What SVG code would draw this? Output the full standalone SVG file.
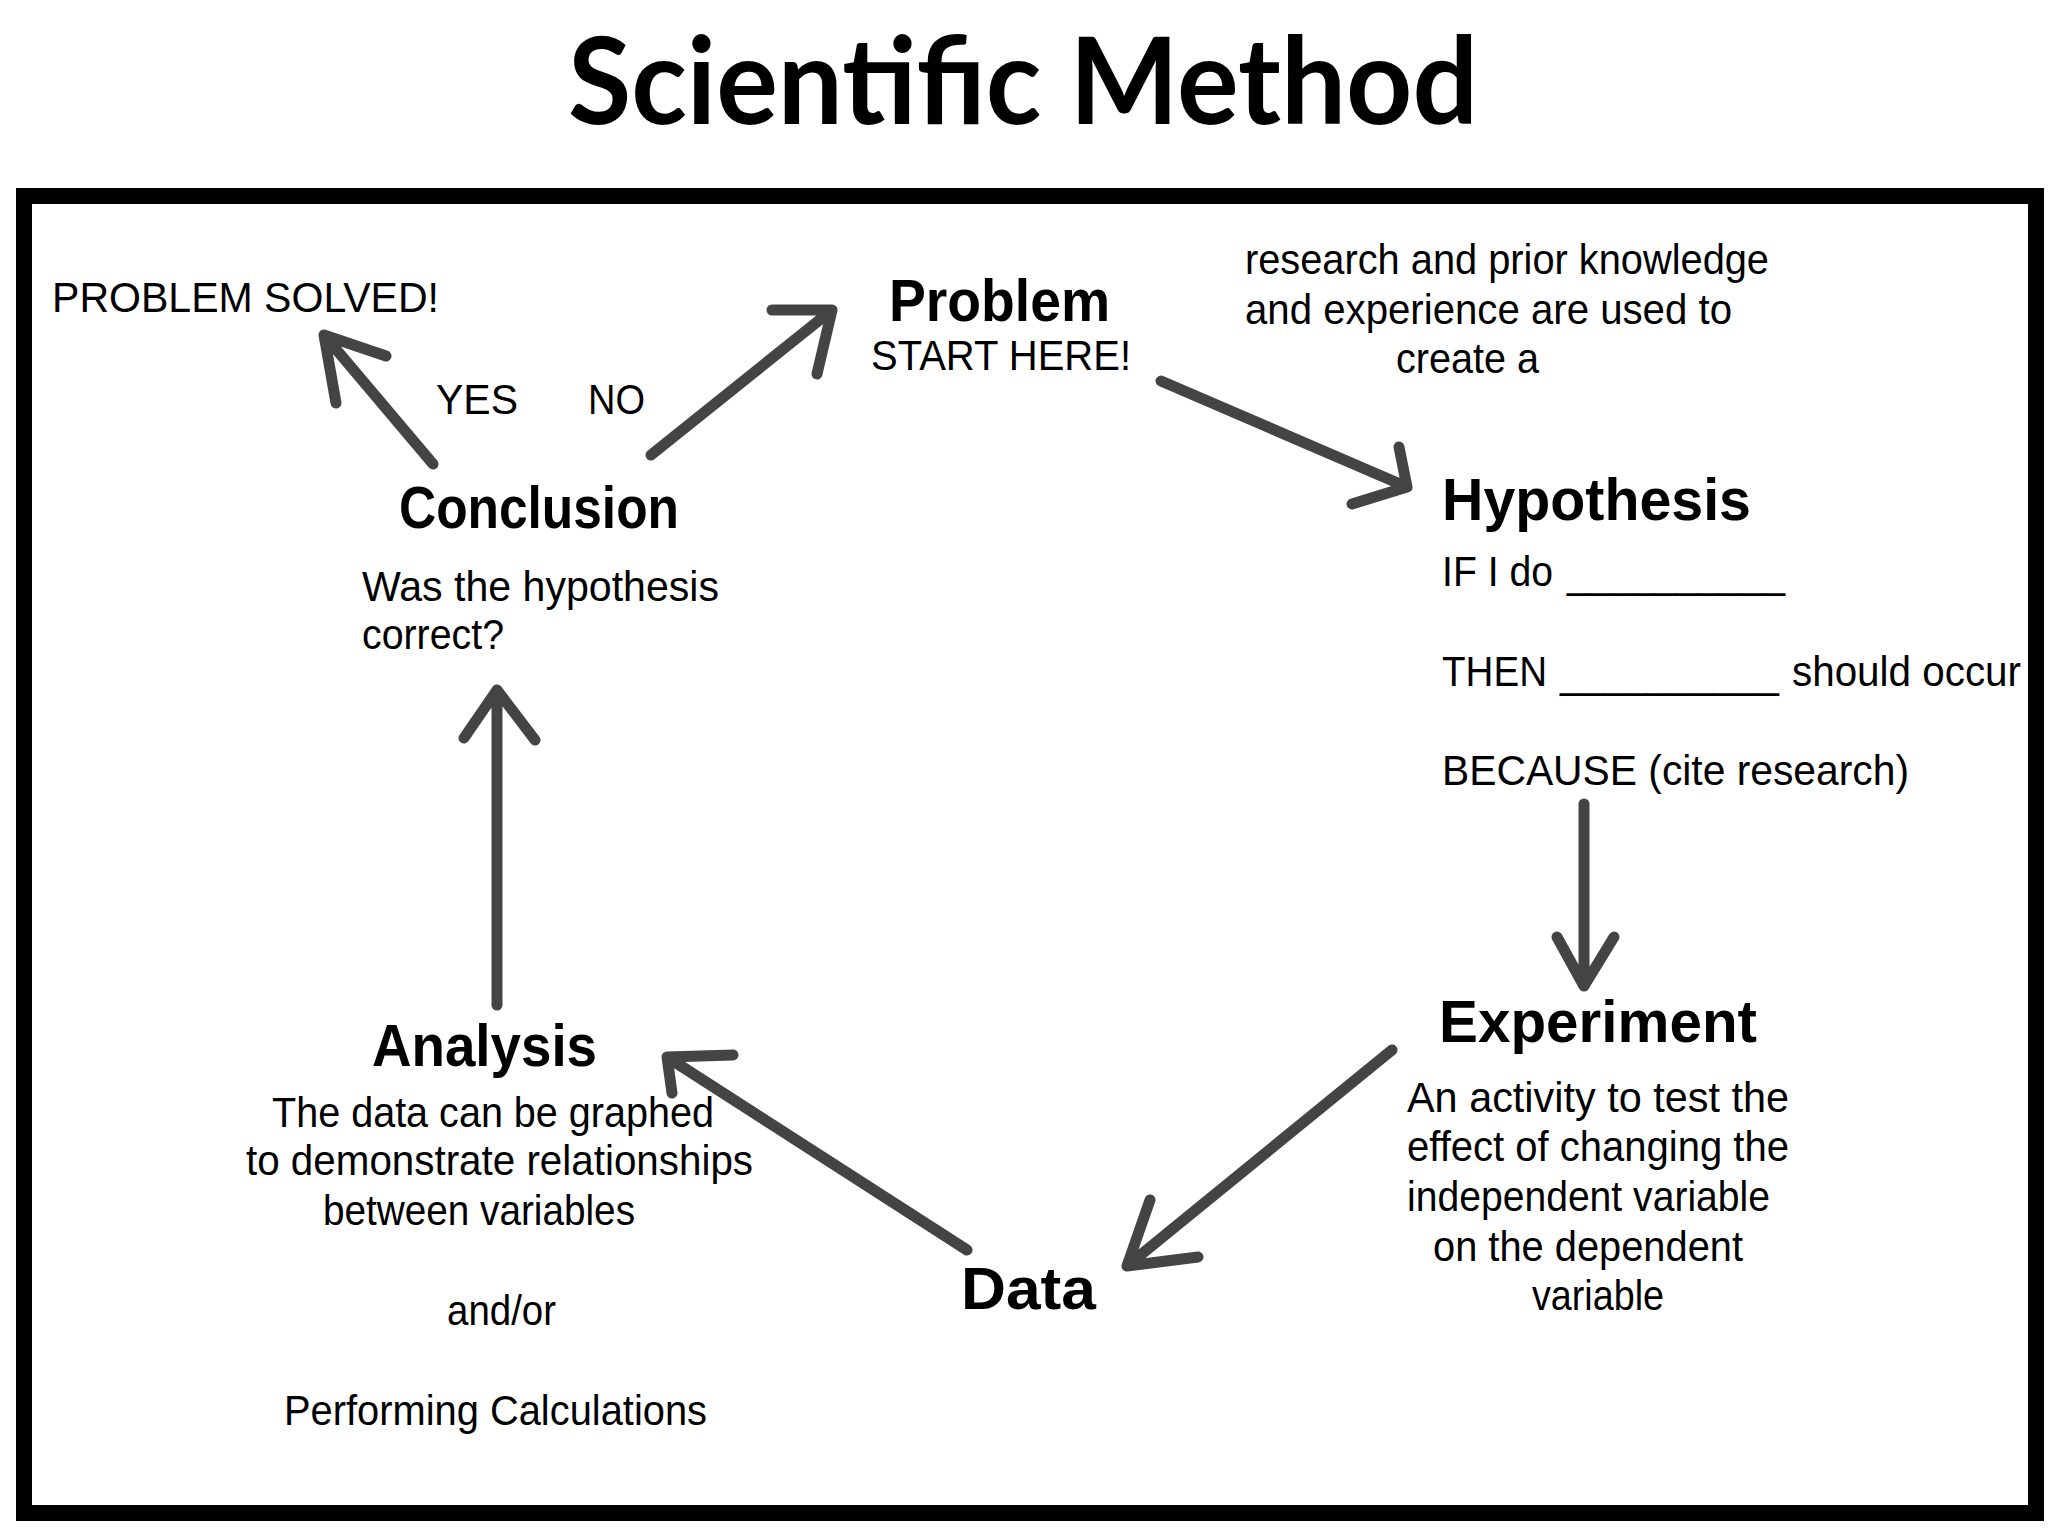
<svg xmlns="http://www.w3.org/2000/svg" width="2048" height="1536" viewBox="0 0 2048 1536">
<style>
  .title{font-family:Lato,"Open Sans","Liberation Sans",sans-serif;font-weight:700;font-size:120px;fill:#000}
  .head{font-family:"Liberation Sans",Arial,sans-serif;font-weight:700;font-size:60px;fill:#000}
  .body{font-family:"Liberation Sans",Arial,sans-serif;font-size:42px;fill:#000}
  .arrow{fill:none;stroke:#444;stroke-width:11;stroke-linecap:round;stroke-linejoin:round}
</style>
<rect x="0" y="0" width="2048" height="1536" fill="#fff"/>
<g id="title">
  <text class="title" x="568" y="124" textLength="910" lengthAdjust="spacingAndGlyphs">Scientific Method</text>
</g>
<g id="frame">
  <rect x="24" y="196" width="2012" height="1317" fill="#fff" stroke="#000" stroke-width="16"/>
</g>
<g id="node-problem-solved">
  <text class="body" x="52" y="312" textLength="387" lengthAdjust="spacingAndGlyphs">PROBLEM SOLVED!</text>
</g>
<g id="node-problem">
  <text class="head" x="889" y="321" textLength="221" lengthAdjust="spacingAndGlyphs">Problem</text>
  <text class="body" x="871" y="370" textLength="260" lengthAdjust="spacingAndGlyphs">START HERE!</text>
</g>
<g id="note-research">
  <text class="body" x="1245" y="274" textLength="524" lengthAdjust="spacingAndGlyphs">research and prior knowledge</text>
  <text class="body" x="1245" y="324" textLength="487" lengthAdjust="spacingAndGlyphs">and experience are used to</text>
  <text class="body" x="1396" y="373" textLength="143" lengthAdjust="spacingAndGlyphs">create a</text>
</g>
<g id="node-hypothesis">
  <text class="head" x="1442" y="520" textLength="309" lengthAdjust="spacingAndGlyphs">Hypothesis</text>
  <text class="body" x="1442" y="586" textLength="111" lengthAdjust="spacingAndGlyphs">IF I do</text>
  <text class="body" x="1567" y="588" textLength="218" lengthAdjust="spacingAndGlyphs">__________</text>
  <text class="body" x="1442" y="686" textLength="105" lengthAdjust="spacingAndGlyphs">THEN</text>
  <text class="body" x="1560" y="688" textLength="219" lengthAdjust="spacingAndGlyphs">__________</text>
  <text class="body" x="1792" y="686" textLength="229" lengthAdjust="spacingAndGlyphs">should occur</text>
  <text class="body" x="1442" y="785" textLength="467" lengthAdjust="spacingAndGlyphs">BECAUSE (cite research)</text>
</g>
<g id="node-experiment">
  <text class="head" x="1439" y="1042" textLength="318" lengthAdjust="spacingAndGlyphs">Experiment</text>
  <text class="body" x="1407" y="1112" textLength="382" lengthAdjust="spacingAndGlyphs">An activity to test the</text>
  <text class="body" x="1407" y="1161" textLength="382" lengthAdjust="spacingAndGlyphs">effect of changing the</text>
  <text class="body" x="1407" y="1211" textLength="363" lengthAdjust="spacingAndGlyphs">independent variable</text>
  <text class="body" x="1433" y="1261" textLength="310" lengthAdjust="spacingAndGlyphs">on the dependent</text>
  <text class="body" x="1532" y="1310" textLength="132" lengthAdjust="spacingAndGlyphs">variable</text>
</g>
<g id="node-data">
  <text class="head" x="961" y="1309" textLength="135" lengthAdjust="spacingAndGlyphs">Data</text>
</g>
<g id="node-analysis">
  <text class="head" x="372" y="1066" textLength="225" lengthAdjust="spacingAndGlyphs">Analysis</text>
  <text class="body" x="272" y="1127" textLength="442" lengthAdjust="spacingAndGlyphs">The data can be graphed</text>
  <text class="body" x="246" y="1175" textLength="507" lengthAdjust="spacingAndGlyphs">to demonstrate relationships</text>
  <text class="body" x="323" y="1225" textLength="312" lengthAdjust="spacingAndGlyphs">between variables</text>
  <text class="body" x="447" y="1325" textLength="109" lengthAdjust="spacingAndGlyphs">and/or</text>
  <text class="body" x="284" y="1425" textLength="423" lengthAdjust="spacingAndGlyphs">Performing Calculations</text>
</g>
<g id="node-conclusion">
  <text class="head" x="399" y="528" textLength="280" lengthAdjust="spacingAndGlyphs">Conclusion</text>
  <text class="body" x="362" y="601" textLength="357" lengthAdjust="spacingAndGlyphs">Was the hypothesis</text>
  <text class="body" x="362" y="649" textLength="142" lengthAdjust="spacingAndGlyphs">correct?</text>
</g>
<g id="connectors">
  <path class="arrow" d="M1161,381 L1407,487 M1399,447 L1407,487 L1352,504"/>
  <path class="arrow" d="M1584,804 L1584,986 M1557,937 L1584,986 L1614,937"/>
  <path class="arrow" d="M1392,1050 L1127,1266 M1150,1200 L1127,1266 L1198,1257"/>
  <path class="arrow" d="M967,1250 L667,1057 M733,1055 L667,1057 L672,1093"/>
  <path class="arrow" d="M497,1005 L497,690 M464,738 L497,690 L535,740"/>
  <path class="arrow" d="M433,464 L324,335 M386,356 L324,335 L336,403"/>
  <path class="arrow" d="M651,455 L832,310 M772,310 L832,310 L817,374"/>
  <text class="body" x="436" y="414" textLength="82" lengthAdjust="spacingAndGlyphs">YES</text>
  <text class="body" x="588" y="414" textLength="57" lengthAdjust="spacingAndGlyphs">NO</text>
</g>
</svg>
